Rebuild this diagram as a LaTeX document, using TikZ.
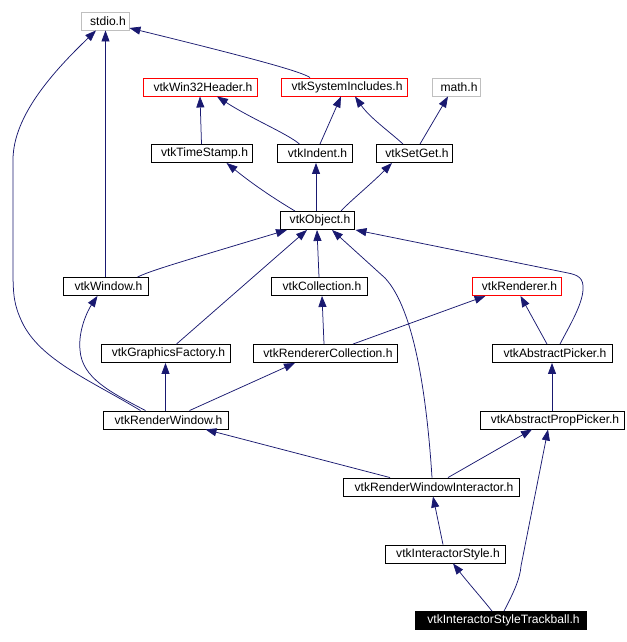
\documentclass[tikz,border=0pt]{standalone}
\usepackage{fontspec}
\setmainfont{Liberation Sans}
\usetikzlibrary{arrows.meta,calc}
\definecolor{edgeblue}{HTML}{191970}
\definecolor{boxgray}{HTML}{BFBFBF}
\begin{document}
\begin{tikzpicture}[x=1pt,y=-1pt,
  box/.style={draw=black,line width=0.9pt,fill=white,minimum height=18pt,inner sep=0pt,
    font=\fontsize{12.1}{13}\selectfont,text=black,execute at begin node=\hspace*{6pt}},
  redbox/.style={box,draw=red},
  graybox/.style={box,draw=boxgray},
  mainbox/.style={box,fill=black,text=white},
  edge/.style={draw=edgeblue,line width=0.75pt,-{Triangle[length=11pt,width=8pt]}}]
\useasboundingbox (0,0) rectangle (626,642);
% nodes
\node[graybox,minimum width=48pt]  (stdio)     at (105,21)    {stdio.h};
\node[redbox,minimum width=114pt]  (win32)     at (200,87)    {vtkWin32Header.h};
\node[redbox,minimum width=126pt]  (sysinc)    at (344,87)    {vtkSystemIncludes.h};
\node[graybox,minimum width=48pt]  (math)      at (456,87)    {math.h};
\node[box,minimum width=101pt]     (timestamp) at (201.5,153.5) {vtkTimeStamp.h};
\node[box,minimum width=75pt]      (indent)    at (314.5,153.5) {vtkIndent.h};
\node[box,minimum width=76pt]      (setget)    at (414,153.5) {vtkSetGet.h};
\node[box,minimum width=74pt]      (object)    at (317,220.5) {vtkObject.h};
\node[box,minimum width=85pt]      (window)    at (105.5,286.5) {vtkWindow.h};
\node[box,minimum width=96pt]      (collection) at (319,286.5) {vtkCollection.h};
\node[redbox,minimum width=89pt]   (renderer)  at (516.5,286.5) {vtkRenderer.h};
\node[box,minimum width=129pt]     (gfactory)  at (165.5,353.5) {vtkGraphicsFactory.h};
\node[box,minimum width=144pt]     (rcoll)     at (325,353.5) {vtkRendererCollection.h};
\node[box,minimum width=120pt]     (apicker)   at (552,353.5) {vtkAbstractPicker.h};
\node[box,minimum width=125pt]     (rwindow)   at (165.5,420) {vtkRenderWindow.h};
\node[box,minimum width=144pt]     (appicker)  at (552,420)   {vtkAbstractPropPicker.h};
\node[box,minimum width=176pt]     (rwi)       at (431,487)   {vtkRenderWindowInteractor.h};
\node[box,minimum width=120pt]     (istyle)    at (445,554)   {vtkInteractorStyle.h};
\node[mainbox,minimum width=171pt] (trackball) at (500.5,620.5) {vtkInteractorStyleTrackball.h};
% edges
\draw[edge] ($(sysinc.north)+(-34,0)$) .. controls (302,72) and (260,60) .. ($(stdio.east)+(0,7)$);
\draw[edge] (window.north) -- (window.north |- stdio.south);
\draw[edge] ($(rwindow.north)+(-25,0)$) .. controls (90,380) and (40,360) .. (22,322)
   .. controls (14,305) and (13,295) .. (13,270) -- (13,160)
   .. controls (13,115) and (55,70) .. ($(stdio.south)+(-9,0)$);
\draw[edge] (timestamp.north) -- ($(win32.south)+(0,0)$);
\draw[edge] ($(indent.north)+(-15,0)$) .. controls (288,134) and (250,118) .. ($(win32.south)+(17,0)$);
\draw[edge] ($(indent.north)+(5.5,0)$) -- ($(sysinc.south)+(-3,0)$);
\draw[edge] ($(setget.north)+(-11,0)$) .. controls (390,132) and (370,118) .. ($(sysinc.south)+(11,0)$);
\draw[edge] ($(setget.north)+(6,0)$) -- ($(math.south)+(-8,0)$);
\draw[edge] ($(object.north)+(-22,0)$) .. controls (285,205) and (260,190) .. ($(timestamp.south)+(25,0)$);
\draw[edge] ($(object.north)+(-1,0)$) -- ($(indent.south)+(1.5,0)$);
\draw[edge] ($(object.north)+(24,0)$) .. controls (348,203) and (370,185) .. ($(setget.south)+(-22,0)$);
\draw[edge] ($(window.north)+(32,0)$) .. controls (150,271) and (170,265) .. ($(object.south)+(-30,0)$);
\draw[edge] ($(gfactory.north)+(11,0)$) -- ($(object.south)+(-10,0)$);
\draw[edge] (collection.north) -- ($(object.south)+(0,0)$);
\draw[edge] ($(rwi.north)+(1,0)$) .. controls (427,400) and (415,310) .. (385,278) -- ($(object.south)+(15,0)$);
\draw[edge] ($(apicker.north)+(8,0)$) .. controls (570,325) and (582,305) .. (583,290)
   .. controls (584,278) and (578,275) .. (568,273) -- ($(object.south east)+(1,0)$);
\draw[edge] ($(rcoll.north)+(-1,0)$) -- ($(collection.south)+(3,0)$);
\draw[edge] ($(rcoll.north)+(28,0)$) -- ($(renderer.south)+(-31,0)$);
\draw[edge] ($(apicker.north)+(-5,0)$) -- ($(renderer.south)+(4,0)$);
\draw[edge] ($(rwindow.north)+(-20,0)$) .. controls (110,392) and (82,378) .. (80,350)
   .. controls (78,330) and (88,310) .. ($(window.south)+(-8,0)$);
\draw[edge] (rwindow.north) -- (gfactory.south);
\draw[edge] ($(rwindow.north)+(24,0)$) -- ($(rcoll.south)+(-30,0)$);
\draw[edge] (appicker.north) -- (apicker.south);
\draw[edge] ($(rwi.north)+(-41,0)$) -- ($(rwindow.south)+(40,0)$);
\draw[edge] ($(rwi.north)+(17,0)$) -- ($(appicker.south)+(-20,0)$);
\draw[edge] ($(istyle.north)+(-2,0)$) -- ($(rwi.south)+(2,0)$);
\draw[edge] ($(trackball.north)+(-8.5,0)$) .. controls (480,596) and (470,585) .. ($(istyle.south)+(8,0)$);
\draw[edge] ($(trackball.north)+(3.5,0)$) .. controls (515,590) and (520,578) .. (521,566) -- ($(appicker.south)+(-4,0)$);
\end{tikzpicture}
\end{document}
